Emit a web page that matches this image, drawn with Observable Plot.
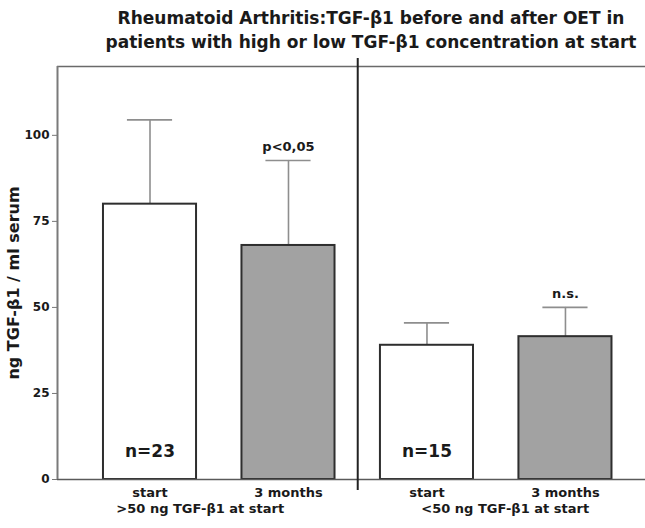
<!DOCTYPE html>
<html>
<head>
<meta charset="utf-8">
<script src="https://cdn.jsdelivr.net/npm/d3@7"></script>
<script src="https://cdn.jsdelivr.net/npm/@observablehq/plot@0.6"></script>
<style>
  html, body { margin: 0; padding: 0; background: #fff; }
  #wrap { position: relative; width: 645px; height: 528px; overflow: hidden; font-family: "DejaVu Sans", sans-serif; }
  #title { position: relative; height: 56px; }
  #title div { position: absolute; left: 371px; transform: translateX(-50%); white-space: nowrap;
    font: bold 17px "DejaVu Sans", sans-serif; color: #1a1a1a; line-height: 24px; }
</style>
</head>
<body>
<div id="wrap">
  <div id="title"></div>
  <div id="chart"></div>
</div>
<script>
// ---- data ----
const titleLines = [
  "Rheumatoid Arthritis:TGF-\u03B21 before and after OET in",
  "patients with high or low TGF-\u03B21 concentration at start"
];
const yLabel = "ng TGF-\u03B21 / ml serum";
const categories = ["start", "3 months", "start", "3 months"];
const groupLabels = [">50 ng TGF-\u03B21 at start", "<50 ng TGF-\u03B21 at start"];
const means = [80, 68, 39, 41.5];
const errors = [24.5, 24.7, 6.5, 8.5];
const nLabels = ["n=23", "", "n=15", ""];
const sigLabels = ["", "p<0,05", "", "n.s."];
const yTicks = [0, 25, 50, 75, 100];
const yMax = 120;

// ---- title ----
const t = document.getElementById("title");
titleLines.forEach((s, k) => {
  const d = document.createElement("div");
  d.textContent = s;
  d.style.top = (6 + k * 24) + "px";
  t.appendChild(d);
});

// ---- table built from the arrays ----
const perGroup = categories.length / groupLabels.length;
const rows = categories.map((c, i) => ({
  i, cat: c, mean: means[i], err: errors[i], top: means[i] + errors[i],
  n: nLabels[i], sig: sigLabels[i], second: i % perGroup === 1
}));
const groups = groupLabels.map((g, k) => ({ g, center: k * perGroup + (perGroup - 1) / 2 }));

const halfBar = 0.336, halfCap = 0.163;
const xDomain = [-0.668, 3.578];
const font = "DejaVu Sans, sans-serif";

const chart = Plot.plot({
  width: 645,
  height: 472,
  marginLeft: 57,
  marginRight: 0,
  marginTop: 10,
  marginBottom: 49,
  style: { fontFamily: font, background: "white", color: "#1a1a1a" },
  x: { type: "linear", domain: xDomain, axis: null },
  y: { domain: [0, yMax], axis: null },
  marks: [
    // error bars
    Plot.ruleX(rows, { x: "i", y1: "mean", y2: "top", stroke: "#8e8e8e", strokeWidth: 1.6 }),
    Plot.ruleY(rows, { y: "top", x1: d => d.i - halfCap, x2: d => d.i + halfCap, stroke: "#8e8e8e", strokeWidth: 1.6 }),
    // bars
    Plot.rectY(rows, {
      x1: d => d.i - halfBar, x2: d => d.i + halfBar, y1: 0, y2: "mean",
      fill: d => d.second ? "#a2a2a2" : "#ffffff", stroke: "#2e2e2e", strokeWidth: 2
    }),
    // frame lines
    Plot.ruleY([yMax], { stroke: "#6a6a6a", strokeWidth: 1.5 }),
    Plot.ruleY([0], { stroke: "#5a5a5a", strokeWidth: 1.6 }),
    Plot.ruleX([xDomain[0]], { stroke: "#7a7a7a", strokeWidth: 2 }),
    // group divider
    Plot.ruleX([perGroup - 0.5], { stroke: "#222", strokeWidth: 2, insetTop: -8, insetBottom: -11 }),
    // y axis
    Plot.axisY({ ticks: yTicks, tickSize: 5, tickPadding: 3, fontSize: 12, fontWeight: "bold", label: null, stroke: "#777" }),
    // x category labels
    Plot.axisX({ ticks: rows.map(d => d.i), tickFormat: i => categories[i], tickSize: 0, tickPadding: 8, fontSize: 13, fontWeight: "bold", label: null }),
    // group labels
    Plot.text([groups[0]], { x: "center", text: "g", frameAnchor: "bottom", dy: 33, dx: -19, fontSize: 13, fontWeight: "bold" }),
    Plot.text([groups[1]], { x: "center", text: "g", frameAnchor: "bottom", dy: 33, dx: 9, fontSize: 13, fontWeight: "bold" }),
    // n labels inside bars
    Plot.text(rows.filter(d => d.n), { x: "i", text: "n", frameAnchor: "bottom", dy: -23, fontSize: 17, fontWeight: "bold", fill: "#1a1a1a" }),
    // significance labels
    Plot.text(rows.filter(d => d.sig), { x: "i", y: "top", text: "sig", dy: -14, fontSize: 13, fontWeight: "bold", fill: "#1a1a1a" }),
    // y label
    Plot.text([yLabel], { frameAnchor: "left", textAnchor: "middle", rotate: -90, dx: -44, dy: 10, fontSize: 16, fontWeight: "bold", fill: "#1a1a1a" })
  ]
});
document.getElementById("chart").appendChild(chart);
</script>
</body>
</html>
